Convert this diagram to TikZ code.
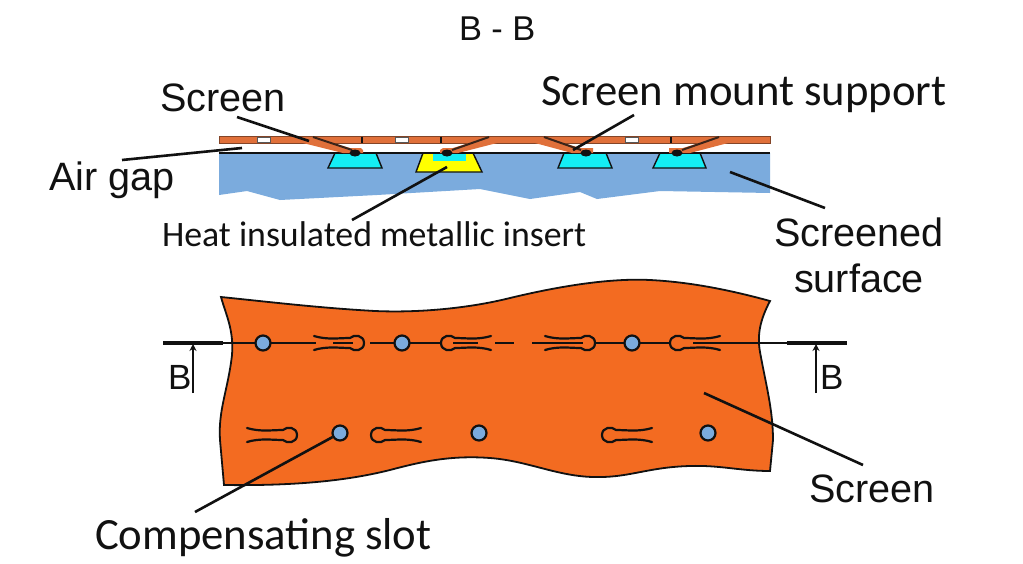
\documentclass[tikz,border=0pt]{standalone}
\usepackage{fontspec}
\setmainfont{Liberation Sans}
\newfontfamily\calib{Carlito}
\usetikzlibrary{arrows.meta,shapes.geometric}
\definecolor{stripc}{HTML}{E0703A}
\definecolor{sheetc}{HTML}{F36B21}
\definecolor{bluec}{HTML}{7BABDD}
\definecolor{cyanc}{HTML}{14EEF4}
\definecolor{yellowc}{HTML}{FFFF00}
\definecolor{inkc}{HTML}{111111}
\tikzset{
  x=1pt,y=-1pt,
  lbl/.style={inner sep=0pt,outer sep=0pt,text=inkc,anchor=base west},
  big/.style={font=\fontsize{39.6}{46}\selectfont},
  cal/.style={font=\calib\fontsize{44.7}{50}\selectfont},
  calsm/.style={font=\calib\fontsize{35.8}{40}\selectfont},
  leader/.style={draw=inkc,line width=2.6pt},
  centre/.style={draw=inkc,line width=1.7pt},
  bar/.style={draw=inkc,line width=4pt},
  trap/.style={fill=cyanc,draw=inkc,line width=1.4pt},
  arm/.style={fill=stripc,draw=none},
  armline/.style={draw=inkc!80!stripc,line width=2pt},
  bolt/.style={ellipse,fill=inkc,draw=none,minimum width=11pt,minimum height=7pt,inner sep=0pt},
  hole/.style={circle,fill=bluec,draw=inkc,line width=2.2pt,minimum size=15pt,inner sep=0pt},
  slotline/.style={draw=inkc,line width=2.2pt,line cap=round},
  slotpic/.pic={
    \draw[slotline] (-43,-7) .. controls (-30,-3) and (-18,-5) .. (-7,-5)
      .. controls (-3,-9) and (7,-8) .. (7,0)
      .. controls (7,8) and (-3,9) .. (-7,5)
      .. controls (-18,5) and (-30,3) .. (-43,7);
  }
}
\begin{document}
\begin{tikzpicture}
\useasboundingbox (0,0) rectangle (1023,563);
\fill[white] (0,0) rectangle (1023,563);

% screened surface (section)
\fill[bluec] (219,153) -- (770,153) -- (770,193) -- (660,191) -- (597,199) -- (580,192)
  -- (530,199) -- (500,193) -- (480,189) -- (377,195) -- (280,200) -- (247,191) -- (219,195) -- cycle;
% inserts
\draw[trap] (335,153) -- (376,153) -- (382,168) -- (328,168) -- cycle;
\draw[trap,fill=yellowc] (423,153) -- (473,153) -- (482,172) -- (416,172) -- cycle;
\fill[cyanc] (433,153) -- (466,153) -- (466,161) -- (433,161) -- cycle;
\draw[trap] (564,153) -- (606,153) -- (612,168) -- (558,168) -- cycle;
\draw[trap] (660,153) -- (700,153) -- (706,168) -- (653,168) -- cycle;
\draw[inkc,line width=2.6pt] (219,153) -- (770,153);

% screen strip
\fill[stripc] (219,136.5) rectangle (770,143);
\draw[inkc!45!stripc,line width=1pt] (219,136.5) rectangle (770,143);
\foreach \x in {257,395,625}
  \draw[fill=white,draw=inkc!70,line width=1pt] (\x,137.5) rectangle (\x+13,142);
\foreach \x in {362,441,671}
  \draw[inkc,line width=1.8pt] (\x,136.5) -- (\x,143);
% arms
\fill[arm] (313,137) -- (350,148) -- (361,148) -- (363,150) -- (363,153) -- (343,153) -- (303,143) -- cycle;
\draw[armline] (313,137) -- (352,150);
\fill[arm] (489,137) -- (453,148) -- (443,148) -- (440,150) -- (440,153) -- (458,153) -- (497,143) -- cycle;
\draw[armline] (489,137) -- (452,150);
\fill[arm] (544,137) -- (580,148) -- (593,148) -- (593,153) -- (572,153) -- (535,143) -- cycle;
\draw[armline] (544,137) -- (581,150);
\fill[arm] (719,137) -- (683,148) -- (669,148) -- (669,153) -- (690,153) -- (728,143) -- cycle;
\draw[armline] (719,137) -- (682,150);
\node[bolt] (b1) at (355,153) {};
\node[bolt] (b2) at (447,153) {};
\node[bolt] (b3) at (586,153) {};
\node[bolt] (b4) at (677,153) {};

% sheet
\filldraw[fill=sheetc,draw=inkc,line width=1.8pt]
  (221,297) .. controls (270,302) and (320,308) .. (375,311)
  .. controls (420,313) and (470,308) .. (510,298)
  .. controls (560,286) and (610,278) .. (650,280)
  .. controls (690,282) and (730,290) .. (770,301)
  .. controls (760,320) and (757,335) .. (760,352)
  .. controls (766,385) and (773,410) .. (773,440)
  -- (770,471)
  .. controls (740,471) and (720,465) .. (690,466)
  .. controls (650,467) and (630,477) .. (600,477)
  .. controls (560,478) and (530,461) .. (490,458)
  .. controls (450,455) and (420,462) .. (390,470)
  .. controls (350,480) and (300,486) .. (224,485)
  -- (220,440)
  .. controls (218,410) and (228,390) .. (232,355)
  .. controls (234,330) and (226,315) .. (221,297) -- cycle;

% section line
\draw[centre] (223,343) -- (316,343);
\draw[centre] (333,343) -- (353,343);
\draw[centre] (370,343) -- (442,343);
\draw[centre] (453,343) -- (478,343);
\draw[centre] (495,343) -- (514,343);
\draw[centre] (532,343) -- (583,343);
\draw[centre] (595,343) -- (670,343);
\draw[centre] (693,343) -- (787,343);
\draw[bar] (163,343) -- (223,343);
\draw[bar] (787,343) -- (847,343);

% slots
\pic at (357,343) {slotpic};
\pic[xscale=-1] at (448,343) {slotpic};
\pic at (588,343) {slotpic};
\pic[xscale=-1] at (677,343) {slotpic};
\pic at (290,435) {slotpic};
\pic[xscale=-1] at (378,435) {slotpic};
\pic[xscale=-1] at (609,435) {slotpic};

% holes
\node[hole] (h1) at (263,343) {};
\node[hole] (h2) at (402,343) {};
\node[hole] (h3) at (632,343) {};
\node[hole] (h4) at (340,433) {};
\node[hole] (h5) at (479,433) {};
\node[hole] (h6) at (708,433) {};

% labels
\node[lbl,font=\fontsize{34.4}{40}\selectfont] (title) at (459,40) {B - B};
\node[lbl,big] (lscreen) at (160,111) {Screen};
\node[lbl,big] (lair) at (49,190) {Air gap};
\node[lbl,cal] (lmount) at (541,105) {Screen mount support};
\node[lbl,calsm] (lheat) at (162,246) {Heat insulated metallic insert};
\node[inner sep=0pt,text=inkc,big,align=center,anchor=center] (lsurf) at (859,255) {Screened\\surface};
\node[lbl,big] (lscreen2) at (809,502) {Screen};
\node[lbl,cal] (lslot) at (95,549) {Compensating slot};
\node[lbl,font=\fontsize{35}{40}\selectfont] (bl) at (168,389) {B};
\node[lbl,font=\fontsize{35}{40}\selectfont] (br) at (820,389) {B};

% section arrows
\coordinate (ba) at (193,344);
\coordinate (ba0) at (193,393);
\coordinate (bb) at (816,344);
\coordinate (bb0) at (816,393);
\draw[inkc,line width=2.4pt,-{Stealth[length=7pt,width=7pt]}] (ba0) -- (ba);
\draw[inkc,line width=2.4pt,-{Stealth[length=7pt,width=7pt]}] (bb0) -- (bb);

% leaders
\coordinate (e1) at (309,141);
\coordinate (s1) at (237,117);
\coordinate (e2) at (242,148);
\coordinate (s2) at (122,160);
\coordinate (e3) at (447,167);
\coordinate (s3) at (352,220);
\coordinate (e4) at (573,150);
\coordinate (s4) at (634,115);
\coordinate (e5) at (730,172);
\coordinate (s5) at (825,208);
\coordinate (e6) at (704,393);
\coordinate (s6) at (863,465);
\coordinate (s7) at (195,512);
\draw[leader] (s1) -- (e1);
\draw[leader] (s2) -- (e2);
\draw[leader] (s3) -- (e3);
\draw[leader] (s4) -- (e4);
\draw[leader] (s5) -- (e5);
\draw[leader] (s6) -- (e6);
\draw[leader] (s7) -- (h4);
\end{tikzpicture}
\end{document}
